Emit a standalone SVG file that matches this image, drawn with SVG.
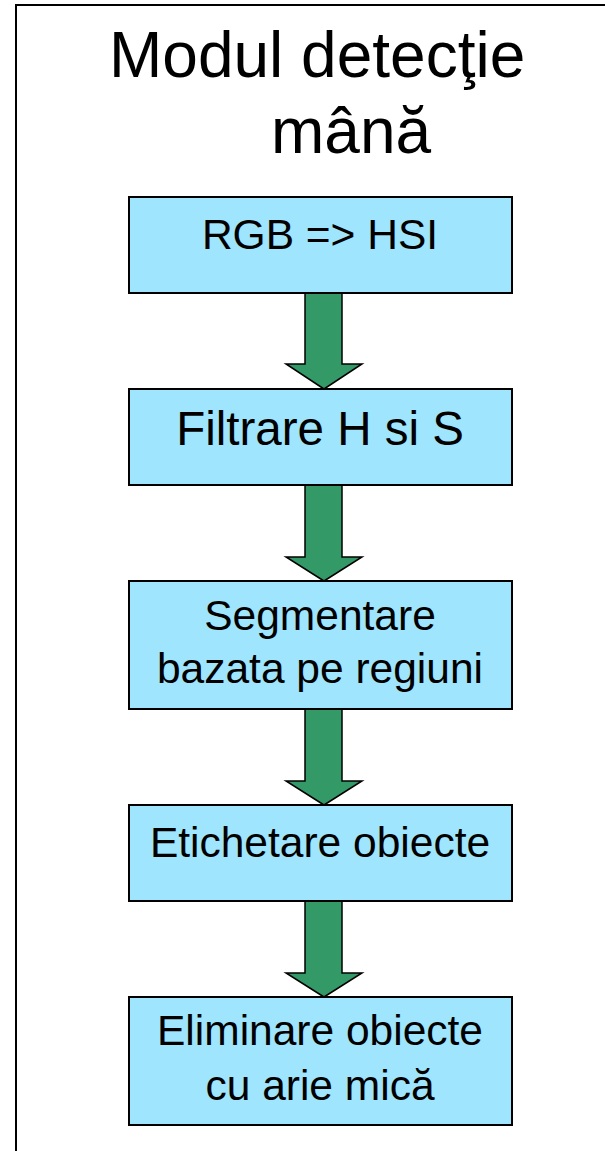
<svg xmlns="http://www.w3.org/2000/svg" width="605" height="1151" viewBox="0 0 605 1151">
<style>
.box{fill:#9EE5FD;stroke:#000;stroke-width:2}
.arr{fill:#339966;stroke:#000;stroke-width:1.5;stroke-linejoin:miter}
.t{font-family:"Liberation Sans",Arial,sans-serif;fill:#000;text-anchor:middle}
.title{font-family:"Liberation Sans",Arial,sans-serif;fill:#000;font-size:64px}
</style>
<rect x="0" y="0" width="605" height="1151" fill="#fff"/>
<rect id="frame" x="16" y="5" width="620" height="1200" fill="none" stroke="#000" stroke-width="2"/>
<g id="title">
<text class="title" x="109" y="77">Modul detecţie</text>
<text class="title" x="271" y="153">mână</text>
</g>
<g id="connectors">
<polygon class="arr" points="305,293 342,293 342,364 362,364 324,389 286,364 305,364"/>
<polygon class="arr" points="305,485 342,485 342,557 362,557 324,581 286,557 305,557"/>
<polygon class="arr" points="305,709 342,709 342,781 362,781 324,805 286,781 305,781"/>
<polygon class="arr" points="305,901 342,901 342,973 362,973 324,997 286,973 305,973"/>
</g>
<g id="n1">
<rect class="box" x="129" y="197" width="383" height="96"/>
<text class="t" x="320" y="249" font-size="42.5">RGB =&gt; HSI</text>
</g>
<g id="n2">
<rect class="box" x="129" y="389" width="383" height="96"/>
<text class="t" x="320" y="445" font-size="47.5">Filtrare H si S</text>
</g>
<g id="n3">
<rect class="box" x="129" y="581" width="383" height="128"/>
<text class="t" x="320" y="630" font-size="42.5">Segmentare</text>
<text class="t" x="320" y="683" font-size="42.5">bazata pe regiuni</text>
</g>
<g id="n4">
<rect class="box" x="129" y="805" width="383" height="96"/>
<text class="t" x="320" y="857" font-size="42.5">Etichetare obiecte</text>
</g>
<g id="n5">
<rect class="box" x="129" y="997" width="383" height="128"/>
<text class="t" x="320" y="1045" font-size="42.5">Eliminare obiecte</text>
<text class="t" x="320" y="1100" font-size="42.5">cu arie mică</text>
</g>
</svg>
